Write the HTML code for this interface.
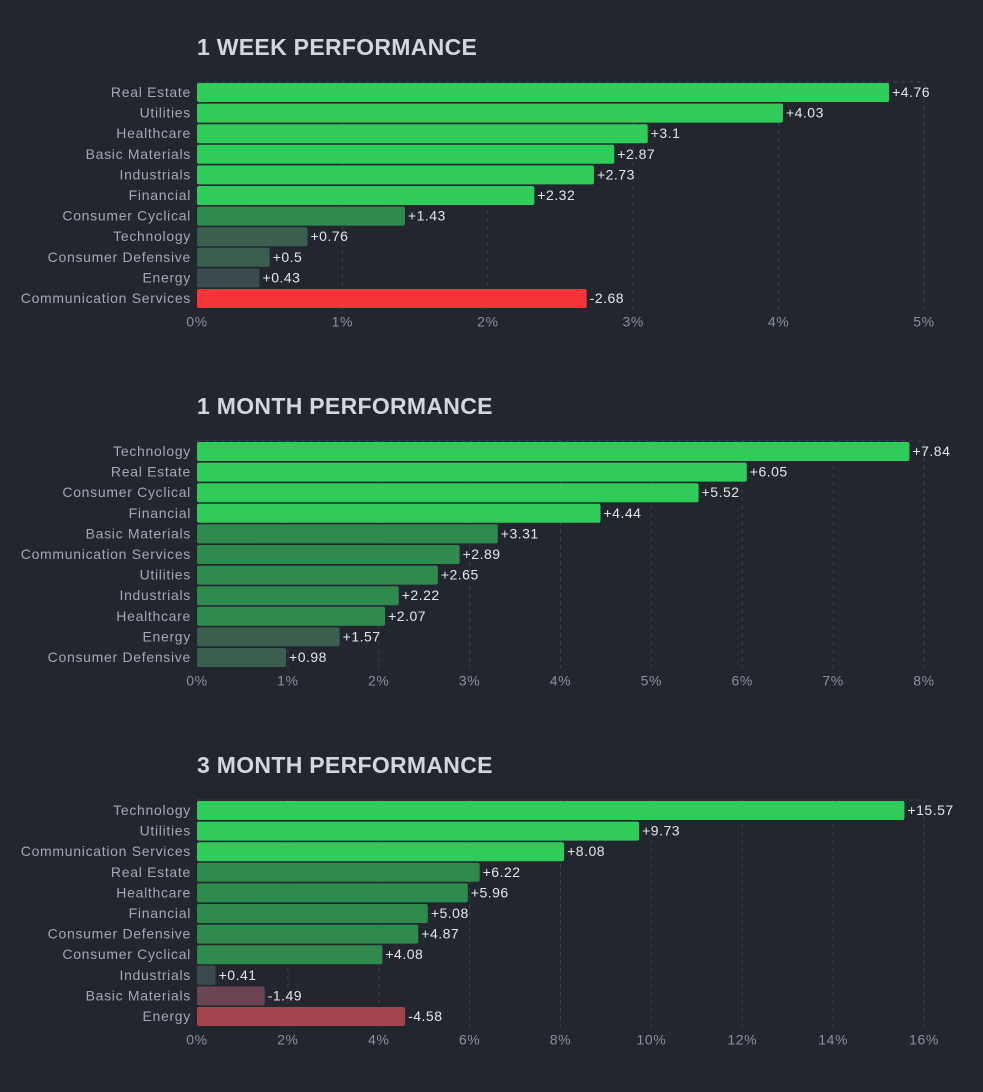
<!DOCTYPE html>
<html><head><meta charset="utf-8"><style>
body{margin:0;background:#22262f;}
svg{display:block;font-family:"Liberation Sans",sans-serif;}
</style></head><body>
<svg id="s" width="983" height="1092" viewBox="0 0 983 1092" xmlns="http://www.w3.org/2000/svg">
<rect width="983" height="1092" fill="#22262f"/>
</svg>
<script>
const weekCats=["Real Estate","Utilities","Healthcare","Basic Materials","Industrials","Financial","Consumer Cyclical","Technology","Consumer Defensive","Energy","Communication Services"];
const weekVals=[4.76,4.03,3.1,2.87,2.73,2.32,1.43,0.76,0.5,0.43,-2.68];
const weekTicks=["0%","1%","2%","3%","4%","5%"];
const monthCats=["Technology","Real Estate","Consumer Cyclical","Financial","Basic Materials","Communication Services","Utilities","Industrials","Healthcare","Energy","Consumer Defensive"];
const monthVals=[7.84,6.05,5.52,4.44,3.31,2.89,2.65,2.22,2.07,1.57,0.98];
const monthTicks=["0%","1%","2%","3%","4%","5%","6%","7%","8%"];
const q3Cats=["Technology","Utilities","Communication Services","Real Estate","Healthcare","Financial","Consumer Defensive","Consumer Cyclical","Industrials","Basic Materials","Energy"];
const q3Vals=[15.57,9.73,8.08,6.22,5.96,5.08,4.87,4.08,0.41,-1.49,-4.58];
const q3Ticks=["0%","2%","4%","6%","8%","10%","12%","14%","16%"];
const titles=["1 WEEK PERFORMANCE","1 MONTH PERFORMANCE","3 MONTH PERFORMANCE"];
const maxes=[5,8,16];
const thresholds=[[2,1],[4,2],[8,4]];

const NS="http://www.w3.org/2000/svg";
const svg=document.getElementById('s');
function mk(tag,attrs,parent){const e=document.createElementNS(NS,tag);for(const k in attrs)e.setAttribute(k,attrs[k]);(parent||svg).appendChild(e);return e;}
function colorFor(v,th){const a=Math.abs(v);
 if(v>=0){return a>=th[0]?"#30cc5a":a>=th[1]?"#2f8a4e":(a<0.45?"#3b4a4e":"#3b5e4e");}
 return a>=th[0]?(th[0]<=2?"#f63538":"#a3444f"):a>=th[1]?"#a3444f":"#6b4553";}
function drawChart(i,top,cats,vals,ticks){
 const g=mk('g',{});
 
 
 const x0=197,x1=924,max=maxes[i];
 const xs=v=>x0+(x1-x0)*v/max;
 const t=mk('text',{x:197,y:top+54,fill:"#d3d6de","font-size":23,"font-weight":"bold","letter-spacing":0.3},g);
 t.textContent=titles[i];
 
 
 const rowTop=top+81,step=20.6;
 const gridBottom=rowTop+step*cats.length+1;
 ticks.forEach((tk,k)=>{
  const x=x0+(x1-x0)*k/(ticks.length-1);
  if(k>0){const l=mk('line',{x1:x,x2:x,y1:rowTop,y2:gridBottom,stroke:"#3a3f4c","stroke-dasharray":"4 4"},g);
   
   }
  const tt=mk('text',{x:x,y:gridBottom+17,fill:"#8b919d","font-size":14,"text-anchor":"middle","letter-spacing":0.6},g);
  tt.textContent=tk;
  
  
 });
 mk('line',{x1:x0,x2:x1,y1:rowTop,y2:rowTop,stroke:"#3a3f4c","stroke-dasharray":"4 4"},g);
 cats.forEach((c,k)=>{
  const v=vals[k],y=rowTop+step*k+1;
  const lab=mk('text',{x:191,y:y+14,fill:"#a3a8b3","font-size":14,"text-anchor":"end","letter-spacing":0.7},g);
  lab.textContent=c;
  
  
  const w=xs(Math.abs(v))-x0;
  const b=mk('rect',{x:x0,y:y,width:Math.max(w,1),height:19,rx:2,fill:colorFor(v,thresholds[i])},g);
  
  
  const vl=mk('text',{x:x0+w+3,y:y+14,fill:"#e4e6ea","font-size":14,"letter-spacing":0.5},g);
  vl.textContent=(v>=0?"+":"")+v;
  
  
 });
}
drawChart(0,1,weekCats,weekVals,weekTicks);
drawChart(1,360,monthCats,monthVals,monthTicks);
drawChart(2,719,q3Cats,q3Vals,q3Ticks);
</script>
</body></html>
